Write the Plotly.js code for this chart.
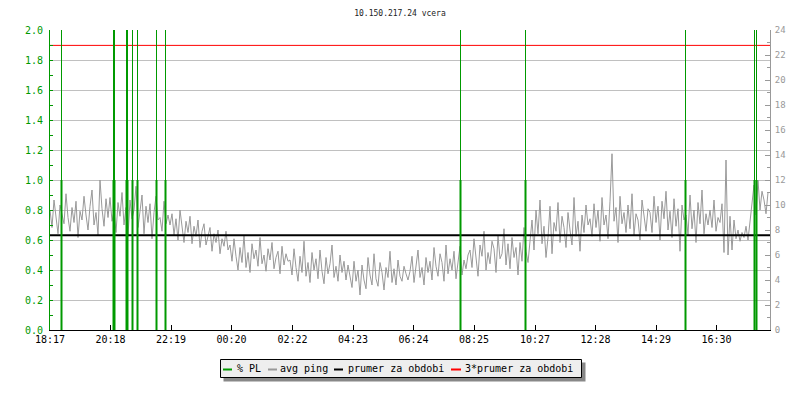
<!DOCTYPE html>
<html>
<head>
<meta charset="utf-8">
<script src="https://cdn.plot.ly/plotly-3.0.1.min.js"></script>
<style>html,body{margin:0;padding:0;background:#fff;}#chart{width:800px;height:400px;}</style>
</head>
<body>
<div id="chart"></div>
<script>
// ---- data ----
const titleText = "10.150.217.24 vcera";
const tickLabels = ["18:17","20:18","22:19","00:20","02:22","04:23","06:24","08:25","10:27","12:28","14:29","16:30"];
const startLabel = "18:17";
const periodMinutes = 1440;
const pingStepMinutes = 4;
// avg ping [ms], one sample every 4 minutes from 18:17
const avgPing = [
  9.6, 8.2, 10.4, 9.1, 7.7, 10.0, 9.3, 8.5, 10.9, 9.0, 7.9, 9.8, 8.6, 10.3, 7.4, 9.5, 8.8, 10.7, 9.2, 8.0, 9.9, 11.2, 8.4, 9.4, 7.6, 12.0, 9.7, 8.3, 10.5, 9.0,
  10.6, 8.7, 9.5, 7.8, 10.2, 9.1, 11.0, 8.4, 9.8, 7.5, 10.4, 8.9, 9.6, 11.5, 8.2, 9.3, 10.8, 7.7, 9.9, 8.6, 10.1, 7.3, 9.4, 10.7, 8.8, 9.0, 7.9, 10.3, 8.5, 9.2,
  8.4, 9.3, 7.6, 8.9, 7.2, 9.6, 8.1, 7.0, 8.7, 7.8, 9.1, 6.9, 8.3, 7.5, 8.8, 6.6, 7.9, 8.5, 6.8, 7.4, 8.2, 6.3, 7.7, 7.0, 8.0, 6.1, 7.3, 6.7, 7.9, 6.4,
  6.8, 5.5, 7.3, 5.9, 4.8, 6.6, 5.4, 7.6, 5.0, 6.2, 4.6, 6.9, 5.7, 6.4, 5.1, 7.4, 5.3, 6.0, 4.7, 6.5, 5.6, 7.0, 4.9, 5.8, 6.3, 4.5, 6.7, 5.2, 6.1, 5.5,
  5.6, 4.4, 6.5, 5.0, 3.9, 5.9, 4.6, 7.1, 4.3, 5.4, 3.8, 6.2, 4.8, 5.7, 4.1, 6.4, 4.7, 3.7, 5.8, 4.5, 5.3, 6.8, 4.2, 5.1, 3.9, 6.0, 4.6, 5.5, 4.0, 5.2,
  4.3, 3.4, 5.5, 3.9, 4.8, 2.8, 5.2, 4.0, 3.3, 5.8, 4.4, 3.6, 6.1, 4.1, 3.5, 5.4, 4.6, 3.2, 5.0, 4.2, 6.3, 3.8, 4.9, 3.6, 5.6, 4.3, 3.9, 5.1, 4.5, 4.0,
  4.7, 5.9, 3.8, 5.3, 6.4, 4.2, 5.0, 3.6, 5.8, 4.6, 5.5, 4.0, 6.6, 5.1, 4.3, 6.1, 5.4, 3.9, 6.8, 4.5, 5.7, 4.8, 6.3, 4.1, 5.2, 6.7, 4.4, 5.6, 4.9, 6.0,
  6.4, 5.0, 7.3, 5.6, 4.3, 6.8, 5.9, 7.9, 4.8, 6.2, 5.3, 7.1, 6.5, 4.6, 7.6, 5.7, 6.1, 8.1, 5.2, 6.9, 4.9, 7.4, 5.8, 6.6, 4.4, 7.0, 5.5, 8.2, 6.3, 5.4,
  7.2, 8.8, 6.4, 9.6, 7.7, 10.4, 6.9, 8.3, 5.8, 7.4, 9.9, 6.1, 8.6, 7.9, 10.2, 7.0, 9.1, 8.2, 6.6, 9.4, 8.0, 6.8, 10.6, 7.5, 8.7, 6.3, 9.2, 7.8, 10.0, 8.4,
  8.9, 7.5, 10.1, 8.2, 9.6, 7.1, 10.6, 8.4, 9.2, 7.3, 10.3, 14.1, 8.7, 9.8, 7.0, 10.7, 8.5, 9.4, 7.8, 10.0, 8.1, 10.9, 7.6, 9.3, 8.8, 7.2, 10.4, 9.0, 7.9, 9.7,
  9.4, 7.8, 10.7, 8.6, 9.9, 7.2, 10.3, 8.9, 11.1, 8.0, 9.5, 7.4, 10.5, 8.3, 9.7, 6.3, 10.0, 8.8, 9.2, 7.6, 10.8, 8.1, 9.6, 7.0, 10.2, 8.5, 11.2, 7.7, 9.3, 8.4,
  9.6, 8.2, 10.4, 7.9, 9.0, 8.6, 10.1, 6.2, 13.6, 6.0, 9.1, 6.4, 8.8, 7.3, 8.0, 7.1, 7.8, 7.4, 8.3, 7.2, 8.6, 10.5, 11.6, 9.2, 12.0, 9.6, 11.1, 10.4, 9.3, 11.0
];
// packet-loss events: minutes after 18:17 and value
const plTimes  = [23, 127, 129, 153, 155, 165, 175, 213, 231, 821, 951, 1271, 1409, 1413];
const plValues = [1.0, 1.0, 1.0, 1.0, 1.0, 1.0, 1.0, 1.0, 1.0, 1.0, 1.0, 1.0, 1.0, 1.0];
const periodAverage = 7.59; // ms
const seriesNames = ["% PL", "avg ping", "prumer za obdobi", "3*prumer za obdobi"];
const seriesColors = ["#009900", "#999999", "#000000", "#ff0000"];

// ---- derived ----
function toMin(s){const p=s.split(":");return (+p[0])*60+(+p[1]);}
const start = toMin(startLabel);
const tickVals = tickLabels.map(l => ((toMin(l)-start)+1440)%1440);
const pingX = avgPing.map((_,i)=>i*pingStepMinutes);
const LEFT_MAX = 2.0, RIGHT_MAX = 24;

const plX=[], plY=[], mkX=[], mkY=[];
plTimes.forEach((t,i)=>{plX.push(t,t,null);plY.push(0,plValues[i],null);mkX.push(t,t,null);mkY.push(0,LEFT_MAX,null);});

const GREEN=seriesColors[0], GRAY='#999999', FONT='DejaVu Sans Mono';

const traces = [
  {x:pingX, y:avgPing, type:'scatter', mode:'lines', name:seriesNames[1], yaxis:'y',
   line:{color:seriesColors[1],width:1}, showlegend:false},
  {x:[0,periodMinutes], y:[periodAverage,periodAverage], type:'scatter', mode:'lines', name:seriesNames[2], yaxis:'y',
   line:{color:seriesColors[2],width:2}, showlegend:false},
  {x:[0,periodMinutes], y:[3*periodAverage,3*periodAverage], type:'scatter', mode:'lines', name:seriesNames[3], yaxis:'y',
   line:{color:seriesColors[3],width:1}, showlegend:false},
  {x:mkX, y:mkY, type:'scatter', mode:'lines', yaxis:'y2', showlegend:false,
   line:{color:GREEN,width:1}},
  {x:plX, y:plY, type:'scatter', mode:'lines', name:seriesNames[0], yaxis:'y2',
   line:{color:GREEN,width:2}, showlegend:false}
];

// ---- hand-drawn legend box (pixel layout -> paper coords) ----
const M = {l:50, r:30, t:30, b:70}, W = 800, H = 400;
const pw = W-M.l-M.r, ph = H-M.t-M.b;
const PX = px => (px-M.l)/pw;
const PY = py => (H-M.b-py)/ph;
const legBox = {x0:220.5, x1:581.5, y0:359.5, y1:377.5};
const legSym = [[223,232],[268,277],[334,343],[451,461]];
const legText = [237,280,348,465];
const legY = 369;
const shapes = [
  {type:'rect', xref:'paper', yref:'paper', x0:PX(legBox.x0+3), x1:PX(legBox.x1+4), y0:PY(legBox.y0+3), y1:PY(legBox.y1+4),
   fillcolor:'#888888', line:{width:0}, layer:'above'},
  {type:'rect', xref:'paper', yref:'paper', x0:PX(legBox.x0), x1:PX(legBox.x1), y0:PY(legBox.y0), y1:PY(legBox.y1),
   fillcolor:'#eeeeee', line:{color:'#000000', width:1}, layer:'above'}
];
const annotations = [];
seriesNames.forEach((n,i)=>{
  shapes.push({type:'line', xref:'paper', yref:'paper', x0:PX(legSym[i][0]), x1:PX(legSym[i][1]), y0:PY(legY+0.5), y1:PY(legY+0.5),
    line:{color:seriesColors[i], width:2}, layer:'above'});
  annotations.push({text:n, xref:'paper', yref:'paper', x:PX(legText[i]-1), y:PY(legY), xanchor:'left', yanchor:'middle',
    showarrow:false, font:{family:FONT, size:10, color:'#000'}, borderpad:0});
});

const layout = {
  width:W, height:H,
  margin:M,
  paper_bgcolor:'#ffffff', plot_bgcolor:'#ffffff',
  font:{family:FONT, size:10, color:'#000'},
  title:{text:titleText, font:{family:FONT, size:8, color:'#222'}, x:0.5, xanchor:'center', y:0.966, yanchor:'middle', xref:'container', yref:'container'},
  xaxis:{range:[0,periodMinutes], tickvals:tickVals, ticktext:tickLabels, showgrid:false, zeroline:false,
    showline:true, linecolor:'#000', linewidth:1, ticks:'inside', ticklen:5, tickcolor:'#000',
    tickfont:{family:FONT,size:10,color:'#000'}, fixedrange:true},
  yaxis:{side:'right', range:[0,RIGHT_MAX], dtick:2, showgrid:false, zeroline:false,
    showline:true, linecolor:GRAY, linewidth:1, ticks:'inside', ticklen:5, tickcolor:GRAY,
    minor:{dtick:1, ticks:'inside', ticklen:3, tickcolor:GRAY, showgrid:false},
    tickfont:{family:FONT,size:9,color:GRAY}, ticklabelstandoff:2},
  yaxis2:{overlaying:'y', side:'left', range:[0,LEFT_MAX], dtick:0.2, tickformat:'.1f',
    showgrid:true, gridcolor:'#c0c0c0', gridwidth:1, zeroline:false,
    showline:true, linecolor:GREEN, linewidth:1, ticks:'inside', ticklen:3, tickcolor:GREEN,
    minor:{dtick:0.1, ticks:'inside', ticklen:3, tickcolor:GREEN, showgrid:false},
    tickfont:{family:FONT,size:10,color:GREEN}, ticklabelstandoff:4},
  showlegend:false,
  shapes:shapes,
  annotations:annotations,
  hovermode:false
};

Plotly.newPlot('chart', traces, layout, {staticPlot:true, displayModeBar:false});
</script>
</body>
</html>
